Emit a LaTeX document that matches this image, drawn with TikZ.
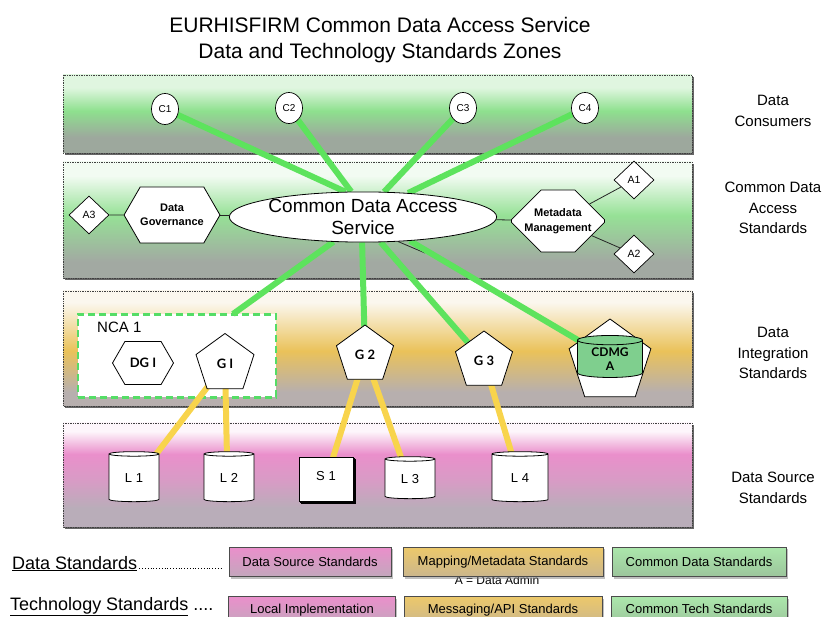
\documentclass[tikz,border=0pt]{standalone}
\usepackage{fontspec}
\setmainfont{Liberation Sans}
\newfontfamily\gillfont{Lato}
\usetikzlibrary{shapes.geometric,shapes.misc,shapes.symbols,shadows,calc}
\definecolor{lgreen}{HTML}{5DE35D}
\definecolor{lyellow}{HTML}{F8D44C}
\definecolor{gAtop}{HTML}{E0F6E0}
\definecolor{gAmid}{HTML}{8EE08E}
\definecolor{gAbot}{HTML}{9DA89D}
\definecolor{gBtop}{HTML}{F2FBF2}
\definecolor{gBmid}{HTML}{96E196}
\definecolor{gBbot}{HTML}{A2A9A2}
\definecolor{yCtop}{HTML}{FBF7EE}
\definecolor{yCmid}{HTML}{EAC25A}
\definecolor{yCbot}{HTML}{B7AFAE}
\definecolor{pDtop}{HTML}{FDF6FB}
\definecolor{pDmid}{HTML}{EA8FCB}
\definecolor{pDlow}{HTML}{D79CC5}
\definecolor{pDbot}{HTML}{B9ADB9}
\definecolor{ncagreen}{HTML}{55DD66}
\definecolor{cdmgfill}{HTML}{7FCF8E}
% the path is mapped onto 25bp (bottom) .. 75bp (top)
\pgfdeclareverticalshading{shA}{100bp}{color(0bp)=(gAbot);color(35bp)=(gAbot);color(52bp)=(gAmid);color(67bp)=(gAtop);color(100bp)=(gAtop)}
\pgfdeclareverticalshading{shB}{100bp}{color(0bp)=(gBbot);color(32bp)=(gBbot);color(52bp)=(gBmid);color(69bp)=(gBtop);color(100bp)=(gBtop)}
\pgfdeclareverticalshading{shC}{100bp}{color(0bp)=(yCbot);color(31bp)=(yCbot);color(49bp)=(yCmid);color(70bp)=(yCtop);color(100bp)=(yCtop)}
\pgfdeclareverticalshading{shD}{100bp}{color(0bp)=(pDbot);color(34bp)=(pDbot);color(47bp)=(pDlow);color(60bp)=(pDmid);color(71bp)=(pDtop);color(100bp)=(pDtop)}
\pgfdeclarelayer{bandlayer}
\pgfdeclarelayer{linelayer}
\pgfsetlayers{bandlayer,linelayer,main}
\begin{document}
\begin{tikzpicture}[x=1pt,y=-1pt,
  every node/.style={inner sep=0pt, font=\fontsize{11}{13}\selectfont},
  band/.style={draw=black!75, densely dotted, line width=0.7pt, shade,
    drop shadow={shadow xshift=1.5pt,shadow yshift=-2.5pt,opacity=0.6,fill=black}},
  cons/.style={ellipse, draw, fill=white, line width=0.7pt, minimum width=27, minimum height=31, font=\fontsize{10}{12}\selectfont},
  dia/.style={diamond, draw, fill=white, line width=0.7pt, minimum width=40, minimum height=38, font=\fontsize{10.5}{12}\selectfont},
  hexa/.style={signal, signal to=east and west, signal pointer angle=120, draw, fill=white, line width=0.8pt, align=center},
  octa/.style={chamfered rectangle, chamfered rectangle sep=17pt, draw, fill=white, line width=0.8pt, align=center},
  penta/.style={regular polygon, regular polygon sides=5, draw, fill=white, line width=0.8pt, font=\gillfont\bfseries\fontsize{13}{15}\selectfont},
  cyl/.style={cylinder, shape border rotate=90, aspect=0.25, draw, fill=white, line width=0.8pt, minimum width=50, minimum height=50, font=\fontsize{13}{15}\selectfont},
  gline/.style={draw=lgreen, line width=6pt},
  yline/.style={draw=lyellow, line width=6pt},
  thinline/.style={draw=black!85, line width=0.8pt},
  rlab/.style={align=center, font=\fontsize{15}{20.5}\selectfont},
  legbox/.style={draw=black!70, line width=0.9pt, minimum height=29, font=\fontsize{13}{15}\selectfont,
    drop shadow={shadow xshift=1.5pt,shadow yshift=-2pt,opacity=0.5}},
  pinkbox/.style={legbox, top color=pDmid, bottom color=pDbot!80!pDmid},
  yelbox/.style={legbox, top color=yCmid!90!white, bottom color=yCbot!60!yCmid},
  grnbox/.style={legbox, top color=gBmid!80!white, bottom color=gBbot!50!gBmid}
]
\useasboundingbox (0,0) rectangle (828,617);

% title
\node[font=\fontsize{21}{26}\selectfont, align=center] (title) at (380,40)
  {EURHISFIRM Common Data Access Service\\Data and Technology Standards Zones};

% bands
\begin{pgfonlayer}{bandlayer}
\path[band, shading=shA] (63,75) rectangle (692,153);
\path[band, shading=shB] (63,162) rectangle (692,278);
\path[band, shading=shC] (63,291) rectangle (692,406);
\path[band, shading=shD] (63,423) rectangle (692,527);
\node[draw=ncagreen, fill=white, line width=2.2pt, dash pattern=on 7pt off 4pt,
  minimum width=198, minimum height=83] (nca) at (177,356) {};
\node[penta, minimum size=86] (CDMG) at (610,362) {};
\end{pgfonlayer}

% right labels
\node[rlab] (r1) at (773,111) {Data\\Consumers};
\node[rlab] (r2) at (773,208) {Common Data\\Access\\Standards};
\node[rlab] (r3) at (773,353) {Data\\Integration\\Standards};
\node[rlab] (r4) at (773,488) {Data Source\\Standards};

% consumers
\node[cons] (C1) at (165,109) {C1};
\node[cons] (C2) at (289,108) {C2};
\node[cons] (C3) at (463,108) {C3};
\node[cons] (C4) at (585,108) {C4};

% access layer
\node[dia] (A3) at (89,215) {A3};
\node[hexa, minimum width=91, minimum height=56] (DG) at (172,215) {\bfseries Data\\[1pt]\bfseries Governance};
\node[ellipse, draw, fill=white, line width=0.8pt, minimum width=258, minimum height=50, align=center,
  font=\fontsize{19}{22}\selectfont] (cdas) at (363,217) {Common Data Access\\Service};
\node[octa, minimum width=93, minimum height=62] (MM) at (558,221) {\bfseries Metadata\\[2pt]\bfseries Management};
\node[dia] (A1) at (634,180) {A1};
\node[dia] (A2) at (634,254) {A2};

% integration layer
\node[anchor=west, font=\fontsize{15}{17}\selectfont] (ncal) at (97,327) {NCA 1};
\node[hexa, minimum width=61, minimum height=43, font=\gillfont\bfseries\fontsize{13}{15}\selectfont] (DGI) at (143,363) {DG I};
\node[penta, minimum size=61] (G1) at (225,364) {G I};
\node[penta, minimum size=60] (G2) at (365,355) {G 2};
\node[penta, minimum size=60] (G3) at (484,361) {G 3};
\node[cyl, minimum width=65, minimum height=42, fill=cdmgfill, align=center,
  font=\gillfont\bfseries\fontsize{12}{14}\selectfont] (cdmgc) at (610,359) {CDMG\\A};

% source layer
\node[cyl] (L1) at (134,478) {L 1};
\node[cyl] (L2) at (229,478) {L 2};
\node[draw, fill=white, line width=0.8pt, minimum width=54, minimum height=44,
  double copy shadow={shadow xshift=1.2pt, shadow yshift=-1.2pt}, font=\fontsize{13}{15}\selectfont] (S1) at (326,479) {\raisebox{7pt}{S 1}};
\node[cyl, minimum height=42] (L3) at (410,479) {L 3};
\node[cyl, minimum width=56] (L4) at (520,478) {L 4};

% connectors
\coordinate (g1top) at (233,314);
\coordinate (blk) at (425,253);
\begin{pgfonlayer}{linelayer}
\draw[thinline] (A3) -- (DG);
\draw[thinline] (DG) -- (cdas);
\draw[thinline] (cdas) -- (MM);
\draw[thinline] (MM) -- (A1);
\draw[thinline] (MM) -- (A2);
\draw[thinline] (cdas.325) -- (blk);
\draw[gline] (C1) -- (cdas.125);
\draw[gline] (C2) -- (cdas.115);
\draw[gline] (C3) -- (cdas.50);
\draw[gline] (C4) -- (cdas.28);
\draw[gline] (cdas.220) -- (g1top);
\draw[gline] (cdas.268) -- (G2.center);
\draw[gline] (cdas.305) -- (G3.center);
\draw[gline] (cdas.333) -- (cdmgc.center);
\draw[yline] (G1.center) -- ($(L1)+(20,-21)$);
\draw[yline] (G1.center) -- ($(L2)+(-2,-20)$);
\draw[yline] (G2.center) -- ($(S1)+(5,-15)$);
\draw[yline] (G2.center) -- ($(L3)+(-7,-16)$);
\draw[yline] (G3.center) -- ($(L4)+(-7,-20)$);
\end{pgfonlayer}

% legend
\node[anchor=base west, font=\fontsize{18}{20}\selectfont] (dstd) at (12,569) {\underline{Data Standards}};
\coordinate (dsend) at (222,568);
\draw[dotted, line width=0.8pt] ([xshift=2pt,yshift=1pt]dstd.base east) -- (dsend);
\node[anchor=base west, font=\fontsize{18}{20}\selectfont] (tstd) at (10,610) {\underline{Technology Standards} ....};
\node[font=\fontsize{12}{14}\selectfont] (admin) at (497,580) {A = Data Admin};
\node[pinkbox, minimum width=162] (lb1) at (310,562) {Data Source Standards};
\node[yelbox, minimum width=200] (lb2) at (503,562) {Mapping/Metadata Standards};
\node[grnbox, minimum width=174] (lb3) at (699,562) {Common Data Standards};
\node[pinkbox, minimum width=167] (lb4) at (312,611) {\raisebox{4pt}{Local Implementation}};
\node[yelbox, minimum width=198] (lb5) at (503,611) {\raisebox{4pt}{Messaging/API Standards}};
\node[grnbox, minimum width=176] (lb6) at (699,611) {\raisebox{4pt}{Common Tech Standards}};
\end{tikzpicture}
\end{document}
